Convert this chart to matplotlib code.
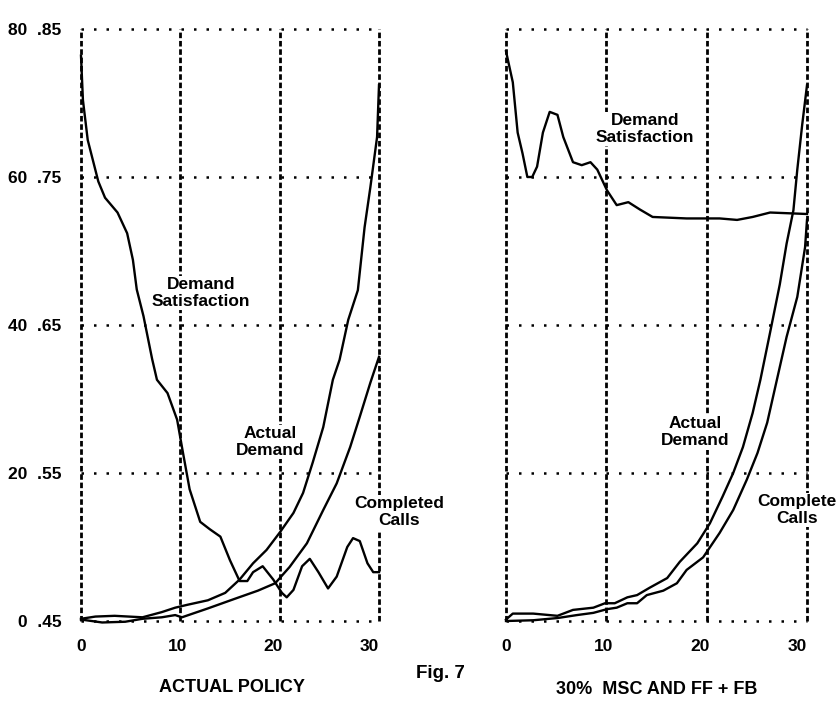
import matplotlib
matplotlib.use("Agg")
import matplotlib.pyplot as plt

plt.rcParams['font.family'] = ['Liberation Sans', 'DejaVu Sans']
plt.rcParams['font.weight'] = 'bold'

# axis ticks (left count scale, right demand-satisfaction scale)
count_ticks = [0, 20, 40, 60, 80]
sat_ticks = [0.45, 0.55, 0.65, 0.75, 0.85]
x_ticks = [0, 10, 20, 30]

# ---- left panel: actual policy ----
ad_l_x = [0, 1.5, 3.5, 6.4, 8.4, 9.8, 11.1, 13.2, 15.0, 16.5, 17.9, 19.3, 20.7, 22.1, 23.1,
          24.1, 25.2, 26.2, 26.9, 27.8, 28.8, 29.5, 30.1, 30.8, 31.0]
ad_l_y = [0.3, 0.6, 0.7, 0.5, 1.2, 1.8, 2.2, 2.8, 3.8, 5.6, 7.8, 9.6, 12.0, 14.6, 17.3,
          21.4, 26.2, 32.6, 35.3, 40.7, 44.7, 53.2, 58.6, 65.4, 72.4]

cc_l_x = [0, 2.2, 4.6, 6.4, 8.4, 9.8, 10.5, 13.2, 16.0, 18.4, 20.2, 21.7, 23.5, 25.2, 26.6,
          28.0, 29.0, 30.1, 31.0]
cc_l_y = [0.2, -0.2, -0.1, 0.3, 0.5, 0.8, 0.5, 1.7, 3.0, 4.1, 5.1, 7.3, 10.5, 15.0, 18.6,
          23.5, 27.6, 32.2, 35.7]

ds_l_x = [0, 0.2, 0.7, 1.8, 2.5, 3.8, 4.8, 5.4, 5.8, 6.5, 7.4, 7.9, 9.0, 10.0, 10.6, 11.3,
          12.4, 13.4, 14.5, 15.5, 16.5, 17.3, 17.9, 18.9, 20.0, 20.9, 21.4, 22.1, 23.0, 23.8,
          24.7, 25.7, 26.6, 27.7, 28.3, 29.0, 29.8, 30.4, 31.0]
ds_l_y = [.832, .802, .775, .747, .736, .726, .712, .694, .674, .656, .627, .613, .604, .586,
          .564, .539, .517, .512, .507, .491, .477, .477, .483, .487, .478, .469, .466, .471,
          .487, .492, .483, .472, .480, .500, .506, .504, .489, .483, .483]

# ---- right panel: 30% MSC and FF + FB ----
ad_r_x = [0, 0.7, 2.8, 5.3, 6.9, 9.0, 10.2, 11.2, 12.5, 13.5, 14.8, 16.6, 17.9, 19.7, 21.0,
          22.3, 23.4, 24.4, 25.4, 26.2, 27.2, 28.2, 28.9, 29.6, 30.0, 30.5, 31.0]
ad_r_y = [0.2, 1.0, 1.0, 0.7, 1.5, 1.8, 2.4, 2.4, 3.2, 3.5, 4.5, 5.8, 8.0, 10.5, 13.2,
          16.8, 20.0, 23.5, 28.1, 32.6, 39.0, 45.5, 51.0, 55.5, 61.0, 67.0, 72.4]

cc_r_x = [0, 2.8, 5.3, 7.3, 9.0, 10.4, 11.4, 12.5, 13.5, 14.5, 16.2, 17.6, 18.6, 20.3, 22.0,
          23.4, 24.8, 25.9, 26.9, 27.9, 28.9, 30.0, 30.8, 31.0]
cc_r_y = [0.0, 0.1, 0.4, 0.8, 1.1, 1.6, 1.8, 2.4, 2.4, 3.5, 4.1, 5.1, 6.9, 8.6, 11.9,
          15.0, 19.1, 22.7, 26.8, 32.6, 38.4, 43.8, 50.5, 54.2]

ds_r_x = [0, 0.7, 1.2, 1.7, 2.2, 2.7, 3.2, 3.8, 4.5, 5.3, 5.9, 6.9, 7.8, 8.7, 9.4, 10.4,
          11.4, 12.6, 13.8, 15.1, 18.6, 22.0, 23.8, 25.4, 27.2, 31.0]
ds_r_y = [.835, .814, .780, .766, .750, .750, .757, .780, .794, .792, .777, .760, .758, .760,
          .755, .741, .731, .733, .728, .723, .722, .722, .721, .723, .726, .725]

X_MAX = 31

fig = plt.figure(figsize=(8.38, 7.05), dpi=100)

box = dict(facecolor='white', edgecolor='none', pad=1)


def make_panel(rect, show_y):
    ax = fig.add_axes(rect)
    ax.set_xlim(0, X_MAX)
    ax.set_ylim(0, 80)
    for s in ax.spines.values():
        s.set_visible(False)
    # frame + grid: dashed verticals, dotted horizontals
    for gx in [0, X_MAX / 3, 2 * X_MAX / 3, X_MAX]:
        ax.axvline(gx, color='black', lw=2.0, ls=(0, (2, 1)), clip_on=False, zorder=1)
    for gy in count_ticks:
        ax.axhline(gy, color='black', lw=1.8, ls=(0, (1, 4)), clip_on=False, zorder=1)
    ax.set_xticks(x_ticks)
    ax.set_xticklabels([str(t) for t in x_ticks])
    ax.tick_params(axis='x', length=0, pad=13, labelsize=12.5)
    ax.set_yticks(count_ticks)
    if show_y:
        ax.set_yticklabels([f"{c}  " + f"{s:.2f}"[1:] for c, s in zip(count_ticks, sat_ticks)])
    else:
        ax.set_yticklabels([])
    ax.tick_params(axis='y', length=0, pad=14, labelsize=12.5)
    for lab in ax.get_xticklabels() + ax.get_yticklabels():
        lab.set_fontweight('bold')
    if show_y:
        # the printed labels sit a little above their grid lines
        for lab, dy in zip(ax.get_yticklabels(), [0, 0.6, 0.6, 1.0, 1.8]):
            lab.set_y(lab.get_position()[1] + dy)
    sat = ax.twinx()
    sat.set_ylim(0.45, 0.85)
    sat.set_yticks([])
    for s in sat.spines.values():
        s.set_visible(False)
    return ax, sat


ax1, sat1 = make_panel([81 / 838, 84 / 705, 298 / 838, 592 / 705], True)
ax2, sat2 = make_panel([506 / 838, 84 / 705, 301 / 838, 592 / 705], False)

lw = 1.7
ax1.plot(ad_l_x, ad_l_y, color='black', lw=lw, clip_on=False, zorder=4)
ax1.plot(cc_l_x, cc_l_y, color='black', lw=lw, clip_on=False, zorder=4)
sat1.plot(ds_l_x, ds_l_y, color='black', lw=lw, clip_on=False, zorder=4)

ax2.plot(ad_r_x, ad_r_y, color='black', lw=lw, clip_on=False, zorder=4)
ax2.plot(cc_r_x, cc_r_y, color='black', lw=lw, clip_on=False, zorder=4)
sat2.plot(ds_r_x, ds_r_y, color='black', lw=lw, clip_on=False, zorder=4)

lab = dict(ha='center', va='center', fontsize=12.5, fontweight='bold',
           linespacing=1.15, bbox=box, zorder=3)
ax1.text(12.5, 44.3, "Demand\nSatisfaction", **lab)
ax1.text(19.7, 24.2, "Actual\nDemand", **lab)
ax1.text(33.1, 14.7, "Completed\nCalls", **lab)
ax2.text(14.3, 66.5, "Demand\nSatisfaction", **lab)
ax2.text(19.5, 25.5, "Actual\nDemand", **lab)
ax2.text(30.0, 15.0, "Complete\nCalls", **lab)

fig.text(232 / 838, 1 - 688 / 705, "ACTUAL POLICY", ha='center', va='center',
         fontsize=13, fontweight='bold')
fig.text(440 / 838, 1 - 674 / 705, "Fig. 7", ha='center', va='center',
         fontsize=13.5, fontweight='bold')
fig.text(657 / 838, 1 - 690 / 705, "30%  MSC AND FF + FB", ha='center', va='center',
         fontsize=13, fontweight='bold')

fig.savefig('out.png', dpi=100)
